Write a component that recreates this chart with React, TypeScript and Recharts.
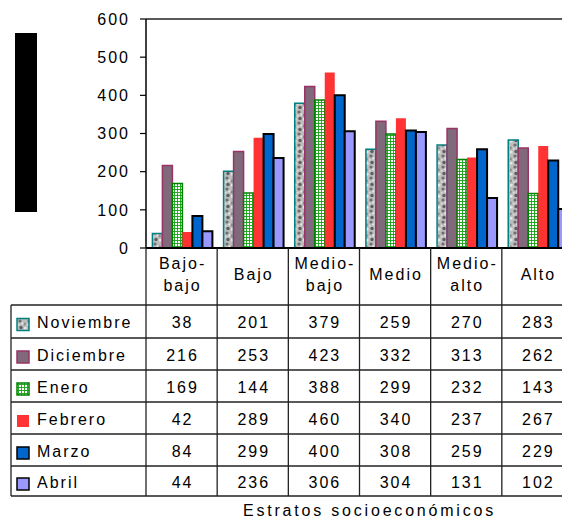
import { Bar, BarChart, Label, ReferenceLine, XAxis, YAxis } from "recharts";

const CATEGORIES = ["Bajo-bajo", "Bajo", "Medio-bajo", "Medio", "Medio-alto", "Alto"];
const NOVIEMBRE = [38, 201, 379, 259, 270, 283];
const DICIEMBRE = [216, 253, 423, 332, 313, 262];
const ENERO = [169, 144, 388, 299, 232, 143];
const FEBRERO = [42, 289, 460, 340, 237, 267];
const MARZO = [84, 299, 400, 308, 259, 229];
const ABRIL = [44, 236, 306, 304, 131, 102];
const Y_TICKS = [0, 100, 200, 300, 400, 500, 600];

const SERIES = [
  { key: "noviembre", name: "Noviembre", values: NOVIEMBRE, fill: "url(#granite)", stroke: "#008080", sw: 1.5 },
  { key: "diciembre", name: "Diciembre", values: DICIEMBRE, fill: "#7f697b", stroke: "#993366", sw: 1.5 },
  { key: "enero", name: "Enero", values: ENERO, fill: "url(#grid)", stroke: "#008000", sw: 1.5 },
  { key: "febrero", name: "Febrero", values: FEBRERO, fill: "#ff3333", stroke: "none", sw: 0 },
  { key: "marzo", name: "Marzo", values: MARZO, fill: "#0066cc", stroke: "#000", sw: 2 },
  { key: "abril", name: "Abril", values: ABRIL, fill: "#9999ff", stroke: "#000", sw: 2 },
];

const chartData = CATEGORIES.map((cat, i) => {
  const row: Record<string, string | number> = { cat };
  SERIES.forEach((s) => (row[s.key] = s.values[i]));
  return row;
});

// layout of the chart and the data table under it
const WIDTH = 580;
const HEIGHT = 518;
const PLOT_LEFT = 146;
const PLOT_RIGHT = 573;
const TOP = 19;
const AXIS_Y = 248;
const ROW_LINES = [305, 338, 370, 402, 434, 466, 496];
const TABLE_LEFT = 11;
const LINE = "#222";

function TableTick(props: any) {
  const { x, y, payload } = props;
  const idx = payload.index ?? props.index;
  const bw = (PLOT_RIGHT - PLOT_LEFT) / CATEGORIES.length;
  const left = x - bw / 2;
  const bottom = ROW_LINES[ROW_LINES.length - 1];
  const name: string = payload.value;
  const parts = name.includes("-") ? [name.split("-")[0] + "-", name.split("-")[1]] : [name];

  return (
    <g>
      {idx === 0 && (
        <g>
          {ROW_LINES.map((ry) => (
            <line key={ry} x1={TABLE_LEFT} x2={WIDTH} y1={ry} y2={ry} stroke={LINE} strokeWidth={1.3} />
          ))}
          <line x1={TABLE_LEFT} x2={TABLE_LEFT} y1={ROW_LINES[0]} y2={bottom} stroke={LINE} strokeWidth={1.3} />
          {SERIES.map((s, r) => {
            const mid = (ROW_LINES[r] + ROW_LINES[r + 1]) / 2;
            return (
              <g key={s.key}>
                <rect
                  x={17}
                  y={mid - 3}
                  width={12}
                  height={12}
                  fill={s.fill}
                  stroke={s.stroke}
                  strokeWidth={s.sw ? 1.5 : 0}
                />
                <text x={37} y={mid + 6.5} fontSize={16} fill="#000" textAnchor="start">
                  {s.name}
                </text>
              </g>
            );
          })}
        </g>
      )}
      <line x1={left} x2={left} y1={y} y2={bottom} stroke={LINE} strokeWidth={1.3} />
      {idx === CATEGORIES.length - 1 && (
        <line x1={left + bw} x2={left + bw} y1={y} y2={bottom} stroke={LINE} strokeWidth={1.3} />
      )}
      {parts.length === 2 ? (
        <>
          <text x={x + 1} y={y + 21} fontSize={16} fill="#000" textAnchor="middle">
            {parts[0]}
          </text>
          <text x={x + 1} y={y + 43} fontSize={16} fill="#000" textAnchor="middle">
            {parts[1]}
          </text>
        </>
      ) : (
        <text x={x + 1} y={y + 32} fontSize={16} fill="#000" textAnchor="middle">
          {parts[0]}
        </text>
      )}
      {SERIES.map((s, r) => {
        const mid = (ROW_LINES[r] + ROW_LINES[r + 1]) / 2;
        return (
          <text key={s.key} x={x + 1} y={mid + 6.5} fontSize={16} fill="#000" textAnchor="middle">
            {s.values[idx]}
          </text>
        );
      })}
    </g>
  );
}

export default function App() {
  return (
    <div
      style={{
        position: "absolute",
        left: 0,
        top: 0,
        width: 562,
        height: 518,
        overflow: "hidden",
        background: "#fff",
        fontFamily: "'Liberation Sans', Arial, sans-serif",
        letterSpacing: 2,
      }}
    >
      <div style={{ position: "absolute", left: 15, top: 33, width: 22, height: 179, background: "#000" }} />
      <BarChart
        width={WIDTH}
        height={HEIGHT}
        data={chartData}
        margin={{ top: TOP, right: WIDTH - PLOT_RIGHT, left: 0, bottom: 0 }}
        barCategoryGap="9%"
        barGap={0}
      >
        <defs>
          <pattern id="granite" width="9" height="11" patternUnits="userSpaceOnUse">
            <rect width="9" height="11" fill="#bdbdbd" />
            <circle cx="2" cy="2" r="1.6" fill="#6e6e6e" />
            <circle cx="6.5" cy="5" r="1.4" fill="#8c8c8c" />
            <circle cx="3" cy="8.5" r="1.7" fill="#5e5e5e" />
            <rect x="6" y="8" width="2.5" height="2.5" fill="#e6e6e6" />
            <rect x="3.5" y="3.5" width="2" height="2" fill="#ececec" />
            <rect x="0" y="5" width="1.5" height="1.5" fill="#e0e0e0" />
          </pattern>
          <pattern id="grid" width="3" height="3" patternUnits="userSpaceOnUse">
            <rect width="3" height="3" fill="#fff" />
            <path d="M0 0.5 H3 M0.5 0 V3" stroke="#14a014" strokeWidth={0.9} />
          </pattern>
        </defs>
        <XAxis
          dataKey="cat"
          height={HEIGHT - AXIS_Y}
          interval={0}
          tickLine={false}
          tickSize={0}
          tickMargin={0}
          axisLine={{ stroke: "#000", strokeWidth: 2 }}
          tick={<TableTick />}
        >
          <Label
            value="Estratos socioeconómicos"
            position="insideBottom"
            offset={2}
            dx={10}
            fontSize={16}
            fill="#000"
            style={{ letterSpacing: 2.8 }}
          />
        </XAxis>
        <YAxis
          width={PLOT_LEFT}
          domain={[0, 600]}
          ticks={Y_TICKS}
          interval={0}
          tickSize={6}
          tickMargin={10}
          tickLine={{ stroke: "#000", strokeWidth: 1.2 }}
          axisLine={{ stroke: "#000", strokeWidth: 1.5 }}
          tick={{ fill: "#000", fontSize: 16 }}
        />
        <ReferenceLine y={600} stroke="#222" strokeWidth={1.5} />
        {SERIES.map((s) => (
          <Bar
            key={s.key}
            dataKey={s.key}
            name={s.name}
            fill={s.fill}
            stroke={s.stroke}
            strokeWidth={s.sw}
            isAnimationActive={false}
          />
        ))}
      </BarChart>
    </div>
  );
}
